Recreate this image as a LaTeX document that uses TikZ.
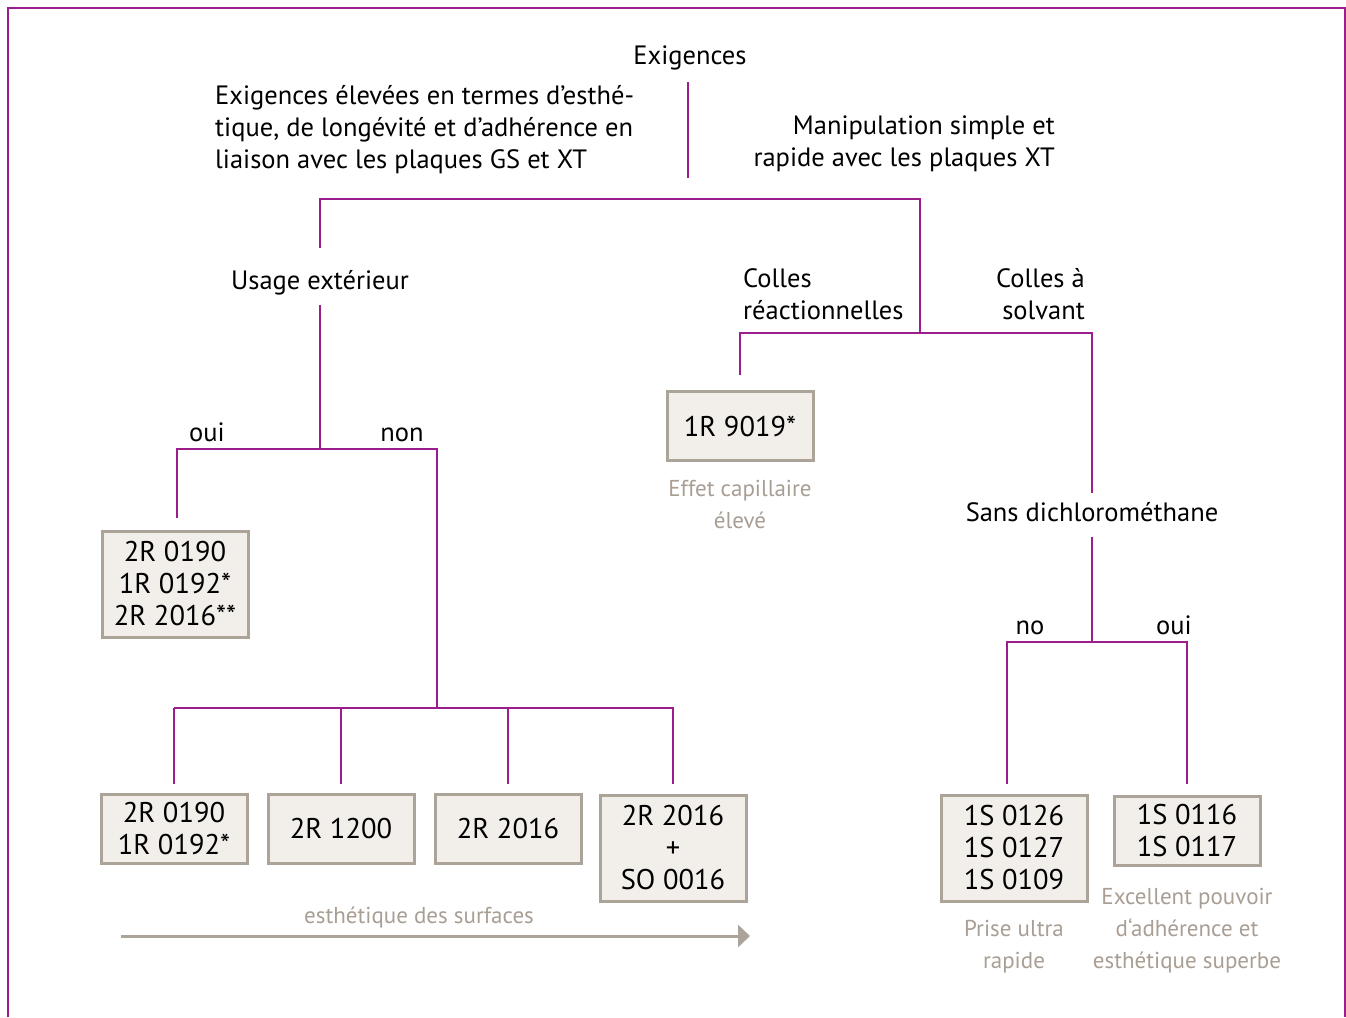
\documentclass[tikz,border=0pt]{standalone}
\usepackage{fontspec}
\setmainfont{PT Sans}
\usetikzlibrary{arrows.meta}
\usetikzlibrary{positioning}
\definecolor{plum}{RGB}{155,30,140}
\definecolor{boxfill}{RGB}{242,239,235}
\definecolor{boxline}{RGB}{172,163,153}
\definecolor{notegray}{RGB}{168,158,148}
\tikzset{lbl/.style={inner sep=0pt, font=\fontsize{26.5}{32}\selectfont}}
\tikzset{stem/.style={lbl, text height=19pt, text depth=6pt}}
\tikzset{prod/.style={inner sep=0pt, font=\fontsize{28.5}{32}\selectfont, draw=boxline, fill=boxfill,
    line width=3pt, minimum width=146pt, minimum height=69pt, align=center}}
\tikzset{tallprod/.style={prod, minimum height=106pt}}
\tikzset{note/.style={inner sep=0pt, font=\fontsize{23}{32}\selectfont, text=notegray, align=center}}
\tikzset{link/.style={draw=plum, line width=2.8pt}}
\tikzset{trend/.style={draw=boxline, line width=3pt, -{Triangle[length=12pt,width=22pt]}}}
\newcommand{\frameit}{
    \draw[plum, line width=1.5pt] (8,1017) -- (8,8) -- (1345,8) -- (1345,1017);
}

\begin{document}
\begin{tikzpicture}[x=1pt, y=-1pt]
        \useasboundingbox (0,0) rectangle (1346,1017);
        \frameit

        % top level
        \node[stem, anchor=base] (exig) at (690,64) {Exigences};
        \node[lbl, align=left, anchor=north west] (high) at (215,85)
            {Exigences élevées en termes d’esthé-\\tique, de longévité et d’adhérence en\\liaison avec les plaques GS et XT};
        \node[lbl, align=right, anchor=north east] (simple) at (1055,116)
            {Manipulation simple et\\rapide avec les plaques XT};

        % left branch
        \node[stem, anchor=base] (usage) at (320,289) {Usage extérieur};
        \node[stem, anchor=base] (oui) at (207,441) {oui};
        \node[stem, anchor=base] (non) at (402,441) {non};
        \node[tallprod] (r0190a) at (175,584) {2R 0190\\1R 0192*\\2R 2016**};
        \node[prod] (r0190b) at (174,829) {2R 0190\\1R 0192*};
        \node[prod] (r1200) at (341,829) {2R 1200};
        \node[prod] (r2016) at (508,829) {2R 2016};
        \node[tallprod] (rso) at (673,848) {2R 2016\\+\\SO 0016};
        \node[note, anchor=base] (surf) at (419,923) {esthétique des surfaces};

        % right branch
        \node[lbl, align=left, anchor=north west] (reac) at (743,268) {Colles\\réactionnelles};
        \node[lbl, align=right, anchor=north east] (solv) at (1085,268) {Colles à\\solvant};
        \node[prod] (r9019) at (740,426) {1R 9019*};
        \node[note, below=18pt of r9019] (capil) {Effet capillaire\\élevé};
        \node[stem, anchor=base] (sans) at (1092,521) {Sans dichlorométhane};
        \node[stem, anchor=base] (no) at (1030,634) {no};
        \node[stem, anchor=base] (oui2) at (1174,634) {oui};
        \node[tallprod] (s126) at (1014,848) {1S 0126\\1S 0127\\1S 0109};
        \node[prod] (s116) at (1187,831) {1S 0116\\1S 0117};
        \node[note, below=18pt of s126] (prise) {Prise ultra\\rapide};
        \node[note, below=21pt of s116] (excel) {Excellent pouvoir\\d‘adhérence et\\esthétique superbe};

        % junctions
        \coordinate (exigend) at (688,178);
        \coordinate (topL) at (320,199);
        \coordinate (topR) at (920,199);
        \coordinate (midJ) at (920,333);
        \coordinate (midL) at (740,333);
        \coordinate (midR) at (1092,333);
        \coordinate (ouinon) at (320,449);
        \coordinate (ouiL) at (177,449);
        \coordinate (nonR) at (437,449);
        \coordinate (rowJ) at (437,708);
        \coordinate (rowL) at (174,708);
        \coordinate (rowR) at (674,708);
        \coordinate (noJ) at (1092,642);
        \coordinate (noL) at (1007,642);
        \coordinate (ouiR) at (1187,642);
        \coordinate (arrA) at (121,936);
        \coordinate (arrB) at (750,936);

        \draw[link, shorten <=12pt] (exigend |- exig.south) -- (exigend);
        \draw[link, shorten <=22pt] (usage.north) -- (topL) -- (topR) -- (midJ);
        \draw[link, shorten <=15.5pt, shorten >=9pt] (r9019.north) -- (midL) -- (midR) -- (sans.north);
        \draw[link, shorten <=10pt] (usage.south) -- (ouinon);
        \draw[link, shorten <=11.5pt] (ouiL |- r0190a.north) -- (ouiL) -- (nonR) -- (rowJ);
        \draw[link] (rowL) -- (rowR);
        \foreach \b in {r0190b,r1200,r2016,rso}
            \draw[link, shorten <=9.5pt] (\b.north) -- (\b.north |- rowL);
        \draw[link, shorten <=10pt] (sans.south) -- (noJ);
        \draw[link, shorten <=9.5pt, shorten >=11.5pt] (noL |- s126.north) -- (noL) -- (ouiR) -- (s116.north);
        \draw[trend] (arrA) -- (arrB);
\end{tikzpicture}
\end{document}
